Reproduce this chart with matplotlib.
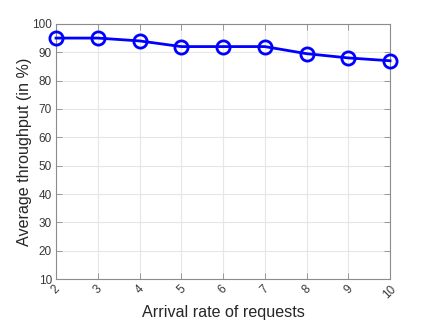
import numpy as np
import matplotlib.pyplot as plt

plt.rcParams['font.family'] = ['Liberation Sans', 'DejaVu Sans']

# data
arrival_rate = [2, 3, 4, 5, 6, 7, 8, 9, 10]
throughput = [95, 95, 94, 92, 92, 92, 89.5, 88, 87]
y_ticks = [10, 20, 30, 40, 50, 60, 70, 80, 90, 100]

fig = plt.figure(figsize=(4.31, 3.23), dpi=100)
ax = fig.add_axes([0.130, 0.136, 0.775, 0.790])

ax.plot(arrival_rate, throughput, color='#0000ff', linewidth=2,
        marker='o', markersize=9.5, markerfacecolor='none',
        markeredgewidth=2, zorder=3, clip_on=False)

ax.set_xlim(2, 10)
ax.set_ylim(10, 100)
ax.set_xticks(arrival_rate)
ax.set_yticks(y_ticks)
ax.grid(True, color='#e6e6e6', linewidth=0.8)
ax.set_axisbelow(True)

for s in ax.spines.values():
    s.set_color('#8c8c8c')
    s.set_linewidth(0.8)

ax.tick_params(direction='in', length=4, width=0.6, colors='#8c8c8c',
               labelcolor='#383838', labelsize=8.5, top=True, right=True)
plt.setp(ax.get_xticklabels(), rotation=45, ha='center', va='top')
ax.tick_params(axis='x', pad=3)
ax.tick_params(axis='y', pad=3)

ax.set_xlabel('Arrival rate of requests', fontsize=11.6, color='#262626',
              labelpad=3)
ax.set_ylabel('Average throughput (in %)', fontsize=11.6, color='#262626',
              labelpad=0)

fig.savefig('out.png', dpi=100)
